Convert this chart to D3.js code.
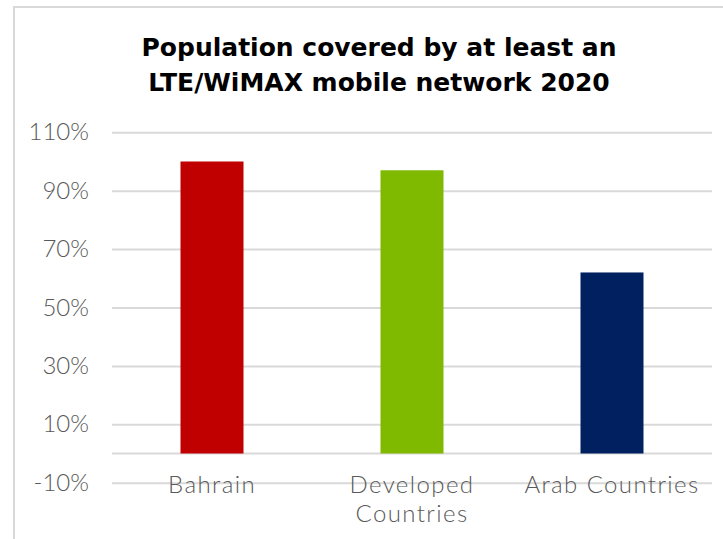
<!DOCTYPE html>
<html>
<head>
<meta charset="utf-8">
<script src="https://cdn.jsdelivr.net/npm/d3@7"></script>
<style>
  html, body { margin: 0; padding: 0; background: #fff; }
  svg { display: block; }
</style>
</head>
<body>
<svg id="chart" width="723" height="539"></svg>
<script>
const categories = ["Bahrain", "Developed Countries", "Arab Countries"];
const values = [100, 97, 62];
const colors = ["#C00000", "#7FBA00", "#002060"];
const tickValues = [-10, 10, 30, 50, 70, 90, 110];
const titleLines = ["Population covered by at least an", "LTE/WiMAX mobile network 2020"];

const svg = d3.select("#chart");
const W = 723, H = 539;

// chart frame
svg.append("rect")
  .attr("x", 14).attr("y", 7)
  .attr("width", W + 20).attr("height", H + 20)
  .attr("fill", "#fff")
  .attr("stroke", "#d9d9d9").attr("stroke-width", 2);

// title
const title = svg.append("text")
  .attr("text-anchor", "middle")
  .attr("font-family", "'DejaVu Sans', sans-serif")
  .attr("font-weight", "bold")
  .attr("font-size", 25)
  .attr("fill", "#000");
titleLines.forEach((t, i) => {
  title.append("tspan").attr("x", 379).attr("y", 56 + i * 35).text(t);
});

const x = d3.scaleBand()
  .domain(categories)
  .range([112, 712])
  .paddingInner(0.685)
  .paddingOuter(0.3425);

const y = d3.scaleLinear()
  .domain([-10, 110])
  .range([482.7, 132.3]);

// y axis with gridlines
const yAxis = svg.append("g")
  .attr("transform", "translate(112,0)")
  .call(d3.axisLeft(y)
    .tickValues(tickValues)
    .tickSize(-600)
    .tickPadding(23)
    .tickFormat(d => d + "%"));
yAxis.select(".domain").remove();
yAxis.selectAll(".tick line")
  .attr("stroke", "#d9d9d9").attr("stroke-width", 2);
yAxis.selectAll(".tick text")
  .attr("font-family", "Lato, 'Noto Sans', sans-serif")
  .attr("font-weight", 300)
  .attr("font-size", 24)
  .attr("fill", "#595959");

// zero line
svg.append("line")
  .attr("x1", 112).attr("x2", 712)
  .attr("y1", y(0)).attr("y2", y(0))
  .attr("stroke", "#d9d9d9").attr("stroke-width", 2);

// bars
svg.append("g").selectAll("rect")
  .data(categories)
  .join("rect")
  .attr("x", d => x(d))
  .attr("width", x.bandwidth())
  .attr("y", (d, i) => y(values[i]))
  .attr("height", (d, i) => y(0) - y(values[i]))
  .attr("fill", (d, i) => colors[i]);

// x axis labels
const xAxis = svg.append("g")
  .attr("transform", `translate(0,${y(0)})`)
  .call(d3.axisBottom(x).tickSize(0).tickPadding(0));
xAxis.select(".domain").remove();
xAxis.selectAll(".tick text")
  .attr("font-family", "Lato, 'Noto Sans', sans-serif")
  .attr("font-weight", 300)
  .attr("font-size", 24)
  .attr("letter-spacing", 1.4)
  .attr("fill", "#595959")
  .attr("y", 39)
  .attr("dy", null)
  .each(function(d) {
    const el = d3.select(this);
    const words = d.split(" ");
    el.text(null);
    let line = [];
    let tspan = el.append("tspan").attr("x", 0).attr("y", 39);
    let lineNo = 0;
    words.forEach(w => {
      line.push(w);
      tspan.text(line.join(" "));
      if (tspan.node().getComputedTextLength() > 195 && line.length > 1) {
        line.pop();
        tspan.text(line.join(" "));
        line = [w];
        lineNo++;
        tspan = el.append("tspan").attr("x", 0).attr("y", 39 + lineNo * 29).text(w);
      }
    });
  });
</script>
</body>
</html>
